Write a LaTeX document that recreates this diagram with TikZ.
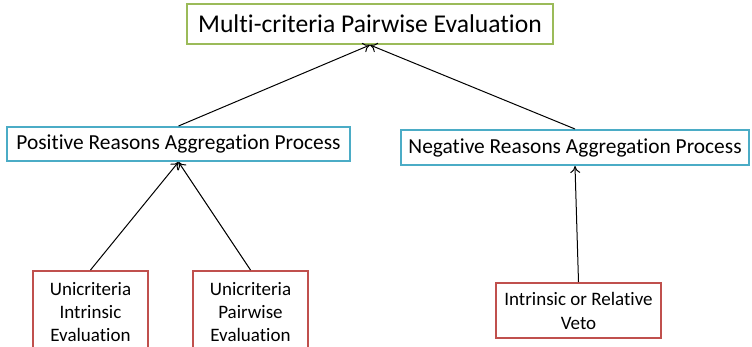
\documentclass[tikz,border=0pt]{standalone}
\usepackage{fontspec}
\setmainfont[Ligatures=NoCommon]{Carlito}
\usetikzlibrary{arrows.meta}
\definecolor{boxgreen}{HTML}{9BBB59}
\definecolor{boxblue}{HTML}{4BACC6}
\definecolor{boxred}{HTML}{C0504D}
\begin{document}
\begin{tikzpicture}[x=1pt,y=-1pt,
  box/.style={draw,line width=2pt,fill=white,inner sep=0pt,align=center},
  topbox/.style={box,draw=boxgreen,font=\fontsize{25.6}{30}\selectfont},
  midbox/.style={box,draw=boxblue,font=\fontsize{21.4}{25}\selectfont},
  lowbox/.style={box,draw=boxred,font=\fontsize{19}{23}\selectfont},
  conn/.style={line width=1pt,-{To[length=7pt,width=10pt]}}]
\useasboundingbox (0,0) rectangle (752,346);
\clip (0,0) rectangle (752,346);
\node[topbox,minimum width=366pt,minimum height=40pt] (top) at (370,24) {Multi-criteria Pairwise Evaluation};
\node[midbox,minimum width=343pt,minimum height=34pt] (pos) at (178.5,144) {Positive Reasons Aggregation Process};
\node[midbox,minimum width=348pt,minimum height=35pt] (neg) at (575,147.5) {Negative Reasons Aggregation Process};
\node[lowbox,minimum width=115pt,minimum height=82pt,anchor=north] (ui) at (90.5,270) {Unicriteria\\Intrinsic\\Evaluation};
\node[lowbox,minimum width=115pt,minimum height=82pt,anchor=north] (up) at (250.5,270) {Unicriteria\\Pairwise\\Evaluation};
\node[lowbox,minimum width=165pt,minimum height=55pt,font=\fontsize{19}{24}\selectfont] (veto) at (578.5,310.5) {Intrinsic or Relative\\Veto};
\draw[conn] (pos.north) -- (top.south);
\draw[conn] (neg.north) -- (top.south);
\draw[conn] (ui.north) -- (pos.south);
\draw[conn] (up.north) -- (pos.south);
\draw[conn] (veto.north) -- (neg.south);
\end{tikzpicture}
\end{document}
